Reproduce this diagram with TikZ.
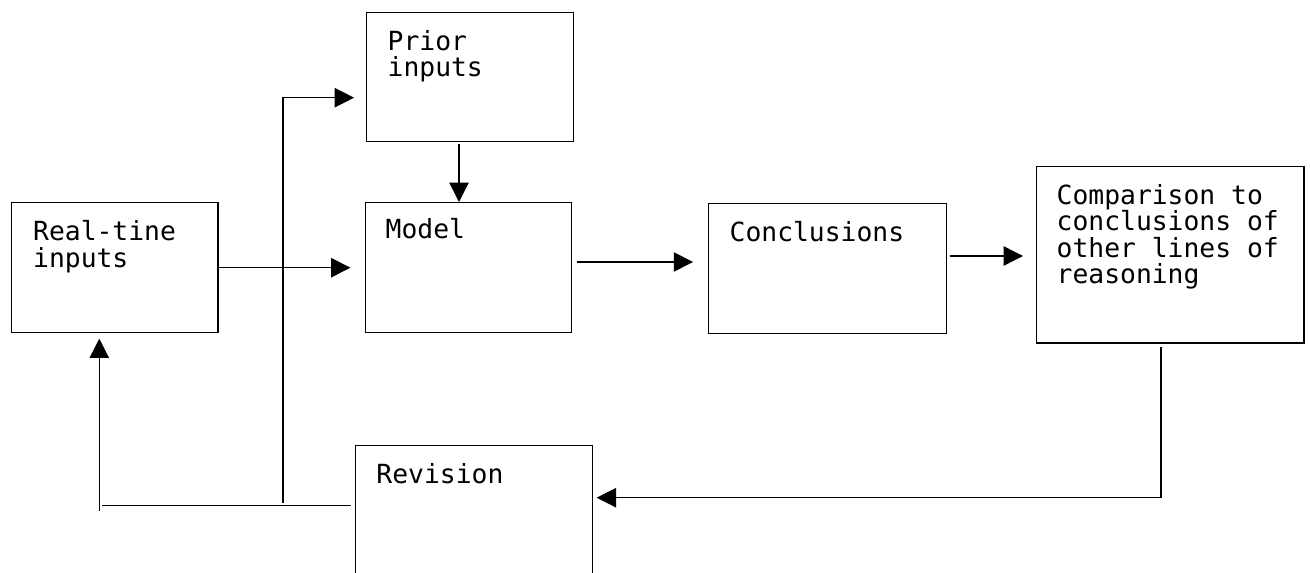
\documentclass[tikz,border=0pt]{standalone}
\usepackage{fontspec}
\newfontfamily\boxfont{DejaVu Sans Mono}
\usetikzlibrary{positioning, arrows.meta}

\begin{document}
\begin{tikzpicture}[x=0.02cm, y=-0.02cm, line width=0.75pt,
    blok/.style={draw, line width=0.8pt, inner sep=0pt, anchor=north west},
    txt/.style={anchor=north west, inner sep=0pt, align=left,
      font=\boxfont\fontsize{15}{15}\selectfont},
    pijl/.style={-{Triangle[length=11pt, width=11pt]}}]
  \useasboundingbox (0,0) rectangle (1310,573);
  \clip (0,0) rectangle (1310,573);
  % Kaders
  \node[blok, minimum width=4.14cm, minimum height=2.6cm] (realtime) at (10.5,202) {};
  \node[blok, minimum width=4.14cm, minimum height=2.58cm] (prior) at (366,11.7) {};
  \node[blok, minimum width=4.13cm, minimum height=2.6cm] (model) at (364.5,202) {};
  \node[blok, minimum width=4.76cm, minimum height=2.6cm] (concl) at (708,202.7) {};
  \node[blok, minimum width=5.35cm, minimum height=3.53cm] (compare) at (1036,165.7) {};
  \node[blok, minimum width=4.74cm, minimum height=3.2cm] (revision) at (354.8,444.7) {};
  % Teksten
  \node[txt] (realtimetxt) at ([shift={(22,18)}]realtime.north west) {Real-tine\\inputs};
  \node[txt] (priortxt) at ([shift={(21,18)}]prior.north west) {Prior\\inputs};
  \node[txt] (modeltxt) at ([shift={(20.5,16)}]model.north west) {Model};
  \node[txt] (concltxt) at ([shift={(21,18)}]concl.north west) {Conclusions};
  \node[txt] (comparetxt) at ([shift={(20,18)}]compare.north west)
    {Comparison to\\conclusions of\\other lines of\\reasoning};
  \node[txt] (revisiontxt) at ([shift={(21,18)}]revision.north west) {Revision};
  % Hulppunten
  \coordinate (priorout) at (459,140.7);
  \coordinate (priorin) at (366,97.7);
  \coordinate (fork) at (283,502.7);
  \coordinate (modelout) at (571,262);
  \coordinate (conclout) at (946,256);
  \coordinate (compareout) at (1161,342);
  \coordinate (corner) at (1161,497.7);
  \coordinate (revout) at (354.8,505.7);
  \coordinate (leftend) at (102,505.7);
  \coordinate (upfoot) at (99.3,510.7);
  % Pijlen
  \draw[pijl, shorten >=8pt] (realtime.east) -- (realtime.east -| model.west);
  \draw[pijl, shorten <=1.8pt] (priorout) -- (priorout |- model.north);
  \draw[pijl, shorten <=3.2pt, shorten >=8.5pt] (modelout) -- (modelout -| concl.west);
  \draw[pijl, shorten <=2pt, shorten >=7.4pt] (conclout) -- (conclout -| compare.west);
  \draw[pijl, shorten <=2.7pt, shorten >=2pt] (compareout) |- (revision.east |- corner);
  \draw[shorten <=2.4pt] (revout) -- (leftend);
  \draw[pijl, shorten >=3pt] (upfoot) -- (upfoot |- realtime.south);
  \draw[pijl, shorten >=6.8pt] (fork) |- (priorin);
\end{tikzpicture}
\end{document}
